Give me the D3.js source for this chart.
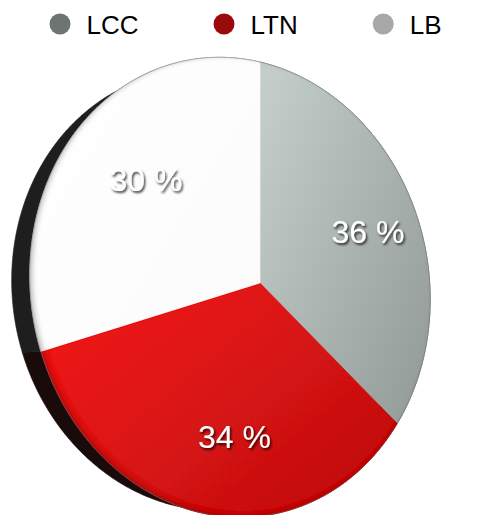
<!DOCTYPE html>
<html>
<head>
<meta charset="utf-8">
<script src="https://cdn.jsdelivr.net/npm/d3@7"></script>
<style>
  html, body { margin: 0; padding: 0; background: #fff; }
  svg { display: block; }
  text { font-family: "Liberation Sans", Arial, Helvetica, sans-serif; }
</style>
</head>
<body>
<svg id="chart" width="503" height="515"></svg>
<script>
// ---- data ----
const categories = ["LCC", "LTN", "LB"];
const shares = [36, 34, 30];
const legendColors = ["#6e7471", "#9a0a0a", "#a8a8a8"];
const faceStops = [["#c3cdc9", "#939c98"], ["#f21616", "#be0f0f"], ["#ffffff", "#fbfbfb"]];
const sideColors = ["#2b2f2e", "#1a0b0b", "#1e1e1e"];
const labels = shares.map(v => v + " %");

const svg = d3.select("#chart");
const defs = svg.append("defs");

// ---- perspective view of a thin disc ----
const view = { cx: 260, cy: 283, rx: 236, ry: 228, yaw: 34, pitch: -5.7, dist: 3.71, depth: 0.2, labelR: 0.67 };
const rad = Math.PI / 180;
const ca = Math.cos(view.yaw * rad), sa = Math.sin(view.yaw * rad);
const cb = Math.cos(view.pitch * rad), sb = Math.sin(view.pitch * rad);
const e1 = [ca, -sa * sb, sa * cb];
const e2 = [0, cb, sb];
const nrm = [e1[1] * e2[2] - e1[2] * e2[1], e1[2] * e2[0] - e1[0] * e2[2], e1[0] * e2[1] - e1[1] * e2[0]];

// u, v: disc-plane coords (unit radius), w: offset along the disc normal (away from viewer)
function project(u, v, w = 0) {
  const X = u * e1[0] + v * e2[0] + w * nrm[0];
  const Y = u * e1[1] + v * e2[1] + w * nrm[1];
  const Z = u * e1[2] + v * e2[2] + w * nrm[2];
  const k = 1 / (1 + Z / view.dist);
  return [view.cx + view.rx * X * k, view.cy + view.ry * Y * k];
}
const polar = (a, r, w = 0) => project(r * Math.sin(a), -r * Math.cos(a), w);
function rimPoints(a0, a1, w = 0) {
  const steps = Math.max(2, Math.ceil((a1 - a0) / (0.5 * rad)));
  return d3.range(steps + 1).map(i => polar(a0 + (a1 - a0) * i / steps, 1, w));
}
const line = d3.line();

const arcs = d3.pie().sort(null).value(d => d)(shares);

// ---- gradients ----
arcs.forEach((d, i) => {
  const g = defs.append("linearGradient").attr("id", "face" + i)
    .attr("x1", 0).attr("y1", 0.1).attr("x2", 1).attr("y2", 0.9);
  g.append("stop").attr("offset", "0%").attr("stop-color", faceStops[i][0]);
  g.append("stop").attr("offset", "100%").attr("stop-color", faceStops[i][1]);
});

// inner shadow along the rim of the face
const inner = defs.append("filter").attr("id", "innerShadow")
  .attr("x", "-10%").attr("y", "-10%").attr("width", "120%").attr("height", "120%");
inner.append("feComponentTransfer").attr("in", "SourceAlpha").attr("result", "inv")
  .append("feFuncA").attr("type", "table").attr("tableValues", "1 0");
inner.append("feGaussianBlur").attr("in", "inv").attr("stdDeviation", 2.5).attr("result", "blur");
inner.append("feOffset").attr("in", "blur").attr("dx", 3).attr("dy", -1).attr("result", "off");
inner.append("feFlood").attr("flood-color", "#000").attr("flood-opacity", 0.5).attr("result", "col");
inner.append("feComposite").attr("in", "col").attr("in2", "off").attr("operator", "in").attr("result", "sh");
inner.append("feComposite").attr("in", "sh").attr("in2", "SourceAlpha").attr("operator", "in").attr("result", "shIn");
const im = inner.append("feMerge");
im.append("feMergeNode").attr("in", "SourceGraphic");
im.append("feMergeNode").attr("in", "shIn");

// text shadow
const ts = defs.append("filter").attr("id", "textShadow")
  .attr("x", "-20%").attr("y", "-30%").attr("width", "140%").attr("height", "160%");
ts.append("feDropShadow").attr("dx", 1.5).attr("dy", 2).attr("stdDeviation", 1.3)
  .attr("flood-color", "#000").attr("flood-opacity", 0.75);

// ---- disc side (thickness) ----
svg.append("g").selectAll("path").data(arcs).join("path")
  .attr("fill", (d, i) => sideColors[i])
  .attr("stroke", (d, i) => sideColors[i]).attr("stroke-width", 0.6)
  .attr("d", d => {
    const front = rimPoints(d.startAngle, d.endAngle, 0);
    const back = rimPoints(d.startAngle, d.endAngle, view.depth).reverse();
    return line(front.concat(back)) + "Z";
  });

// ---- face ----
const face = svg.append("g").attr("filter", "url(#innerShadow)");
face.selectAll("path").data(arcs).join("path")
  .attr("fill", (d, i) => `url(#face${i})`)
  .attr("stroke", (d, i) => `url(#face${i})`).attr("stroke-width", 0.6)
  .attr("d", d => line([project(0, 0)].concat(rimPoints(d.startAngle, d.endAngle))) + "Z");

// thin rim line
svg.append("path")
  .attr("fill", "none").attr("stroke", "#7d7d7d").attr("stroke-width", 0.6).attr("stroke-opacity", 0.7)
  .attr("d", line(rimPoints(0, 2 * Math.PI)) + "Z");

// ---- value labels ----
svg.append("g").selectAll("text").data(arcs).join("text")
  .attr("transform", d => {
    const p = polar((d.startAngle + d.endAngle) / 2, view.labelR);
    return `translate(${p[0]},${p[1]})`;
  })
  .attr("text-anchor", "middle").attr("dy", "0.36em")
  .attr("font-size", 32).attr("fill", "#fff")
  .attr("filter", "url(#textShadow)")
  .text((d, i) => labels[i]);

// ---- legend ----
const legend = svg.append("g").attr("transform", "translate(0,24)");
let x = 60;
categories.forEach((c, i) => {
  legend.append("circle").attr("cx", x).attr("cy", 0).attr("r", 10.5).attr("fill", legendColors[i]);
  const t = legend.append("text").attr("x", x + 26.5).attr("y", 9.5)
    .attr("font-size", 26).attr("fill", "#000").text(c);
  x = x + 26.5 + t.node().getComputedTextLength() + 75 + 10.5;
});
</script>
</body>
</html>
